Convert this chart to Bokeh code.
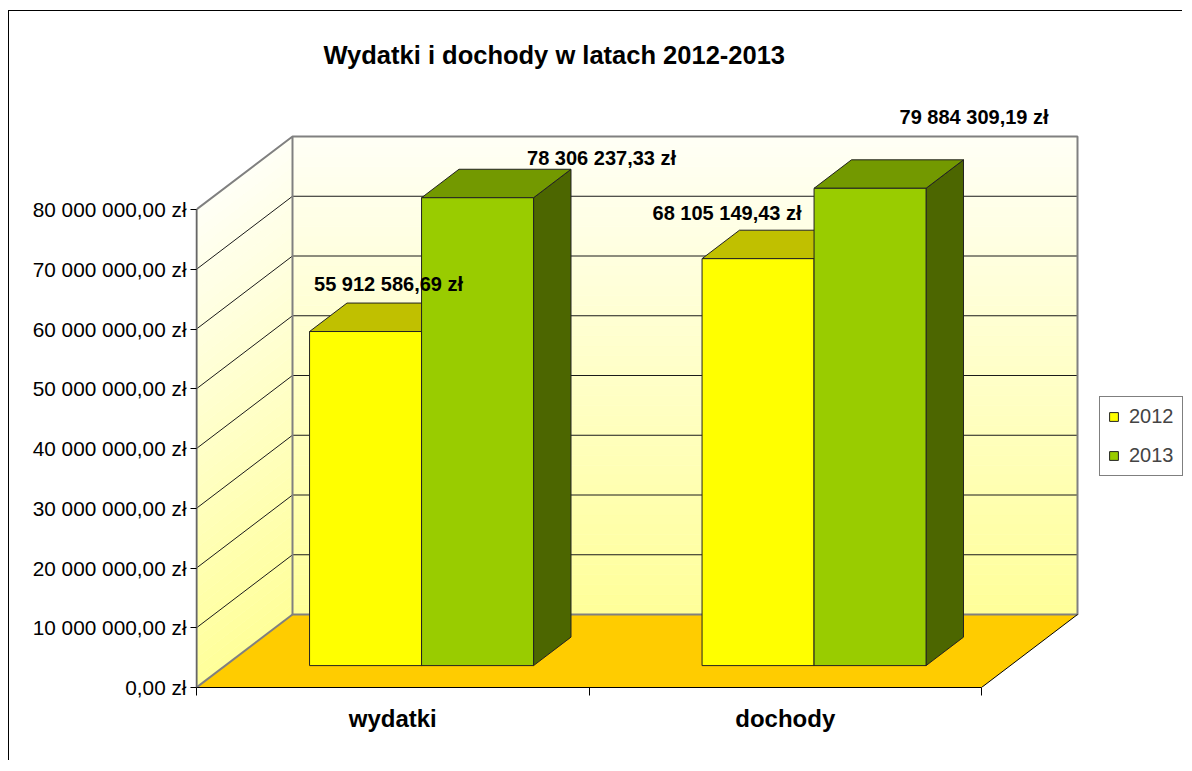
import numpy as np
from bokeh.plotting import figure
from bokeh.models import ColumnDataSource, FixedTicker, Legend, LegendItem, Range1d
from bokeh.core.properties import value
from bokeh.embed import file_html
from bokeh.resources import INLINE

# ---------------- data ----------------
categories = ["wydatki", "dochody"]
series_names = ["2012", "2013"]
values_2012 = [55912586.69, 68105149.43]
values_2013 = [78306237.33, 79884309.19]
y_ticks = [0, 10e6, 20e6, 30e6, 40e6, 50e6, 60e6, 70e6, 80e6]
y_tick_labels = ["0,00 zł", "10 000 000,00 zł", "20 000 000,00 zł", "30 000 000,00 zł",
                 "40 000 000,00 zł", "50 000 000,00 zł", "60 000 000,00 zł",
                 "70 000 000,00 zł", "80 000 000,00 zł"]
title_text = "Wydatki i dochody w latach 2012-2013"

# ---------------- layout / style ----------------
FONT = "Liberation Sans"
W, H = 1174, 750
FL, FB, FT = 187, 74, 0           # frame borders (canvas px)
PX_X = 392.5                      # px per category
PX_Y = 5.975e-6                   # px per zł
DX = 96 / PX_X                    # depth shift in x (data units)
DY = 73 / PX_Y                    # depth shift in y (data units)
YMAX = y_ticks[-1]
D0, D1 = 0.30, 0.69               # bar depth (fraction of floor depth)
BAR_W = 112 / PX_X
front_cols = ["#FFFF00", "#99CC00"]
top_cols = ["#C0C000", "#739900"]
side_cols = ["#808000", "#4C6600"]
# label offsets from front-top centre of the bar (px, up positive)
label_off = [[(23, 48), (-31, 46)], [(124, 40), (104, 71)]]
# title anchor: px right of the axis origin, px above it
TITLE_POS = (127, 633)

x_end = (W - FL) / PX_X
y_end = (H - FB - FT) / PX_Y

p = figure(width=W, height=H, output_backend="svg", toolbar_location=None,
           x_range=Range1d(0, x_end), y_range=Range1d(0, y_end),
           min_border_left=FL, min_border_right=0, min_border_top=FT,
           min_border_bottom=FB, background_fill_color="white",
           border_fill_color="white", outline_line_color=None)
p.styles = {"border-left": "1px solid #000000", "border-top": "1px solid #000000",
            "margin-top": "10px", "margin-left": "8px"}
p.grid.visible = False


def proj(x, v, d):
    return x + d * DX, v + d * DY


# ---------------- walls with gradient ----------------
N = 48
c_lo = np.array([255, 255, 153])
c_hi = np.array([255, 255, 246])
bx, by, lx, ly, cols = [], [], [], [], []
for i in range(N):
    v0 = YMAX * i / N
    v1 = YMAX * (i + 1) / N
    t = (i + 0.5) / N
    c = (c_lo + (c_hi - c_lo) * t).round().astype(int)
    col = "#%02X%02X%02X" % tuple(c)
    bx.append([DX, 2 + DX, 2 + DX, DX])
    by.append([v0 + DY, v0 + DY, v1 + DY, v1 + DY])
    lx.append([0, DX, DX, 0])
    ly.append([v0, v0 + DY, v1 + DY, v1])
    cols.append(col)
p.patches(bx, by, fill_color=cols, line_color=cols, line_width=0.6)
p.patches(lx, ly, fill_color=cols, line_color=cols, line_width=0.6)

# floor
p.patch([0, 2, 2 + DX, DX], [0, 0, DY, DY], fill_color="#FFCC00", line_color=None)

# gridlines
gx, gy = [], []
for v in y_ticks[1:-1]:
    gx.append([0, DX, 2 + DX])
    gy.append([v, v + DY, v + DY])
p.multi_line(gx, gy, line_color="#1A1A1A", line_width=1)

# wall edges
p.multi_line([[0, 0, DX, 2 + DX, 2 + DX, DX, DX], [0, DX]],
             [[0, YMAX, YMAX + DY, YMAX + DY, DY, DY, YMAX + DY], [0, DY]],
             line_color="#808080", line_width=2)
p.line([2, 2 + DX], [0, DY], line_color="#000000", line_width=1)

# ---------------- bars ----------------
front_renderers = []
lab_x, lab_y, lab_t = [], [], []
for j, vals in enumerate([values_2012, values_2013]):
    sx, sy, tx, ty = [], [], [], []
    fl, fr, fb, ft = [], [], [], []
    for i, v in enumerate(vals):
        xl = i + 0.5 - BAR_W + j * BAR_W
        xr = xl + BAR_W
        pts = [proj(xr, 0, D0), proj(xr, 0, D1), proj(xr, v, D1), proj(xr, v, D0)]
        sx.append([q[0] for q in pts]); sy.append([q[1] for q in pts])
        pts = [proj(xl, v, D0), proj(xr, v, D0), proj(xr, v, D1), proj(xl, v, D1)]
        tx.append([q[0] for q in pts]); ty.append([q[1] for q in pts])
        fl.append(xl + D0 * DX); fr.append(xr + D0 * DX)
        fb.append(D0 * DY); ft.append(v + D0 * DY)
        ox, oy = label_off[j][i]
        lab_x.append((xl + xr) / 2 + D0 * DX + ox / PX_X)
        lab_y.append(v + D0 * DY + oy / PX_Y)
        lab_t.append(f"{v:,.2f}".replace(",", " ").replace(".", ",") + " zł")
    p.patches(sx, sy, fill_color=side_cols[j], line_color="#222222", line_width=1)
    p.patches(tx, ty, fill_color=top_cols[j], line_color="#222222", line_width=1)
    r = p.quad(left=fl, right=fr, bottom=fb, top=ft, fill_color=front_cols[j],
               line_color="#222222", line_width=1)
    front_renderers.append(r)

p.text(x=lab_x, y=lab_y, text=lab_t, text_font=value(FONT), text_font_size="20px",
       text_font_style="bold", text_align="center", text_baseline="middle",
       text_color="#000000")

# title
p.text(x=[TITLE_POS[0] / PX_X], y=[TITLE_POS[1] / PX_Y], text=[title_text],
       text_font=value(FONT), text_font_size="25.5px", text_font_style="bold",
       text_align="left", text_baseline="middle", text_color="#000000")

# ---------------- axes ----------------
ya = p.yaxis[0]
ya.ticker = FixedTicker(ticks=y_ticks)
ya.major_label_overrides = {t: l for t, l in zip(y_ticks, y_tick_labels)}
ya.bounds = (0, YMAX)
ya.axis_line_color = "#666666"
ya.axis_line_width = 1.5
ya.major_tick_out = 6
ya.major_tick_in = 0
ya.minor_tick_line_color = None
ya.major_tick_line_color = "#000000"
ya.major_label_text_font = FONT
ya.major_label_text_font_size = "20.8px"
ya.major_label_text_color = "#000000"
ya.major_label_standoff = 4

xa = p.xaxis[0]
centers = [i + 0.5 for i in range(len(categories))]
bounds_t = [float(i) for i in range(len(categories) + 1)]
xa.ticker = FixedTicker(ticks=centers, minor_ticks=bounds_t)
xa.major_label_overrides = {c: n for c, n in zip(centers, categories)}
xa.bounds = (0, len(categories))
xa.axis_line_color = "#000000"
xa.axis_line_width = 1
xa.major_tick_line_color = None
xa.major_tick_out = 0
xa.minor_tick_out = 8
xa.minor_tick_in = 0
xa.minor_tick_line_color = "#000000"
xa.major_label_text_font = FONT
xa.major_label_text_font_size = "24px"
xa.major_label_text_font_style = "bold"
xa.major_label_text_color = "#000000"
xa.major_label_standoff = 9

# ---------------- legend ----------------
legend = Legend(items=[LegendItem(label=s, renderers=[r]) for s, r in zip(series_names, front_renderers)],
                location=(1099 - 196, 687 - 476), orientation="vertical",
                glyph_width=11, glyph_height=11, label_standoff=10,
                label_text_font=FONT, label_text_font_size="20px",
                label_height=20, spacing=16, padding=8, margin=0,
                border_line_color="#000000", border_line_width=1,
                background_fill_color="white", background_fill_alpha=1)
p.add_layout(legend)

open("out.html", "w").write(file_html(p, INLINE))
